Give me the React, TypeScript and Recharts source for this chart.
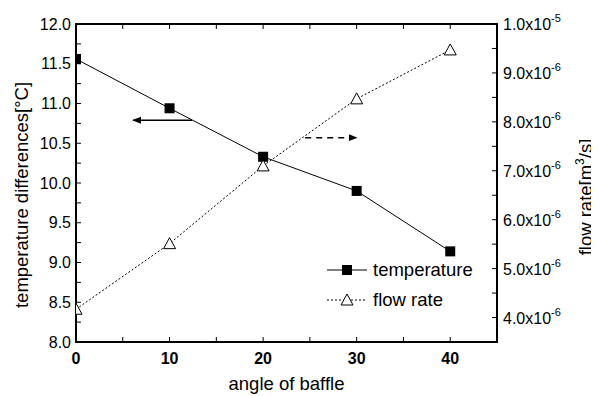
import { LineChart, Line, XAxis, YAxis, ReferenceLine, ReferenceArea, Legend } from "recharts"

// angle of baffle (deg)
const angles = [0, 10, 20, 30, 40]
// temperature differences [°C]
const temperature = [11.56, 10.94, 10.33, 9.9, 9.14]
// flow rate [m3/s]
const flowRate = [4.17e-6, 5.51e-6, 7.1e-6, 8.47e-6, 9.47e-6]

const xTicks = [0, 10, 20, 30, 40]
const xMinorTicks = [0, 5, 10, 15, 20, 25, 30, 35, 40, 45]
const tempTicks = [8, 8.5, 9, 9.5, 10, 10.5, 11, 11.5, 12]
const tempMinorTicks = [8, 8.25, 8.5, 8.75, 9, 9.25, 9.5, 9.75, 10, 10.25, 10.5, 10.75, 11, 11.25, 11.5, 11.75, 12]
const flowTicks = [4e-6, 5e-6, 6e-6, 7e-6, 8e-6, 9e-6, 1e-5]
const flowMantissa = ["4.0", "5.0", "6.0", "7.0", "8.0", "9.0", "1.0"]
const flowExponent = ["-6", "-6", "-6", "-6", "-6", "-6", "-5"]
const flowMinorTicks = [4e-6, 4.5e-6, 5e-6, 5.5e-6, 6e-6, 6.5e-6, 7e-6, 7.5e-6, 8e-6, 8.5e-6, 9e-6, 9.5e-6, 1e-5]

// annotation arrows (data coordinates, temperature axis)
const leftArrow = [{ x: 12.4, y: 10.79 }, { x: 6.1, y: 10.79 }]
const rightArrow = [{ x: 24.5, y: 10.57 }, { x: 30.0, y: 10.57 }]

const data = angles.map((a, i) => ({ angle: a, temperature: temperature[i], flowRate: flowRate[i] }))

const FONT = "'Liberation Sans', Arial, sans-serif"
const TITLE_SIZE = 18.5
const X_MAX = 45
const TEMP_MIN = 8
const TEMP_MAX = 12
const TOP_TICK = 0.063 // inward tick length on the top frame, in °C
const axisLine = { stroke: "#000", strokeWidth: 2 }
const tickLine = { stroke: "#000", strokeWidth: 1 }

const Square = (props: any) => {
  const { cx, cy, index } = props
  if (cx == null || cy == null) return <g key={`sq-${index}`} />
  return <rect key={`sq-${index}`} x={cx - 5} y={cy - 5} width={10} height={10} fill="#000" />
}

const Triangle = (props: any) => {
  const { cx, cy, index } = props
  if (cx == null || cy == null) return <g key={`tr-${index}`} />
  return (
    <polygon
      key={`tr-${index}`}
      points={`${cx},${cy - 6} ${cx - 6},${cy + 5} ${cx + 6},${cy + 5}`}
      fill="#fff"
      stroke="#000"
      strokeWidth={1}
    />
  )
}

const FlowTick = (props: any) => {
  const { x, y, payload } = props
  const i = flowTicks.findIndex((t) => Math.abs(t - payload.value) < 1e-9)
  if (i < 0) return <g />
  return (
    <text x={x} y={y} dy={6} textAnchor="start" fontSize={16} fontFamily={FONT} fill="#000">
      {flowMantissa[i]}x10
      <tspan fontSize={11} dy={-8}>{flowExponent[i]}</tspan>
    </text>
  )
}

const LegendContent = () => (
  <div style={{ fontFamily: FONT, fontSize: TITLE_SIZE, color: "#000" }}>
    <div style={{ display: "flex", alignItems: "center", height: 30 }}>
      <svg width={42} height={14}>
        <line x1={0} y1={7} x2={40} y2={7} stroke="#000" strokeWidth={1} />
        <rect x={15} y={2} width={10} height={10} fill="#000" />
      </svg>
      <span style={{ marginLeft: 4 }}>temperature</span>
    </div>
    <div style={{ display: "flex", alignItems: "center", height: 30 }}>
      <svg width={42} height={14}>
        <line x1={0} y1={7} x2={40} y2={7} stroke="#000" strokeWidth={1} strokeDasharray="2 2" />
        <polygon points="20,1 14,12 26,12" fill="#fff" stroke="#000" />
      </svg>
      <span style={{ marginLeft: 4 }}>flow rate</span>
    </div>
  </div>
)

export default function App() {
  return (
    <LineChart width={591} height={388} data={data} margin={{ top: 16, right: 0, bottom: 0, left: 0 }}>
      <defs>
        <marker id="arrowHead" viewBox="0 0 10 10" refX="9" refY="5" markerWidth="6" markerHeight="6" orient="auto">
          <path d="M0,1 L10,5 L0,9 z" fill="#000" />
        </marker>
      </defs>
      <XAxis
        xAxisId="main"
        type="number"
        dataKey="angle"
        domain={[0, X_MAX]}
        ticks={xMinorTicks}
        interval={0}
        allowDataOverflow
        height={54}
        axisLine={axisLine}
        tickLine={tickLine}
        tickSize={-5}
        tickMargin={16}
        tickFormatter={(v: number) => (xTicks.includes(v) ? String(v) : "")}
        tick={{ fill: "#000", fontSize: 16, fontWeight: "bold", fontFamily: FONT }}
        label={(p: any) => {
          const vb = p.viewBox
          return (
            <text x={vb.x + vb.width / 2} y={382} textAnchor="middle" fontSize={TITLE_SIZE} fontFamily={FONT} fill="#000">
              angle of baffle
            </text>
          )
        }}
      />
      <YAxis
        yAxisId="temp"
        type="number"
        domain={[TEMP_MIN, TEMP_MAX]}
        ticks={tempMinorTicks}
        interval={0}
        allowDataOverflow
        width={68}
        axisLine={axisLine}
        tickLine={tickLine}
        tickSize={-5}
        tickMargin={10}
        tickFormatter={(v: number) => (tempTicks.includes(v) ? v.toFixed(1) : "")}
        tick={{ fill: "#000", fontSize: 16, fontFamily: FONT }}
        label={(p: any) => {
          const vb = p.viewBox
          const cy = vb.y + vb.height / 2 + 12
          return (
            <text x={20} y={cy} transform={`rotate(-90, 20, ${cy})`} textAnchor="middle" fontSize={TITLE_SIZE} fontFamily={FONT} fill="#000">
              temperature differences[°C]
            </text>
          )
        }}
      />
      <YAxis
        yAxisId="flow"
        orientation="right"
        type="number"
        domain={[3.5e-6, 1e-5]}
        ticks={flowMinorTicks}
        interval={0}
        allowDataOverflow
        width={102}
        axisLine={axisLine}
        tickLine={tickLine}
        tickSize={-5}
        tickMargin={11}
        tick={<FlowTick />}
        label={(p: any) => {
          const vb = p.viewBox
          const cy = vb.y + vb.height / 2 + 14
          return (
            <text x={584} y={cy} transform={`rotate(-90, 584, ${cy})`} textAnchor="middle" fontSize={TITLE_SIZE} fontFamily={FONT} fill="#000">
              flow rate[m<tspan fontSize={12} dy={-8}>3</tspan>
              <tspan dy={8}>/s]</tspan>
            </text>
          )
        }}
      />
      <Legend
        layout="vertical"
        align="center"
        verticalAlign="middle"
        content={<LegendContent />}
        wrapperStyle={{ left: 319, top: 247, width: 170 }}
      />
      {/* plot frame (gives the top border) and the top inward ticks */}
      <ReferenceArea
        xAxisId="main"
        yAxisId="temp"
        x1={0}
        x2={X_MAX}
        y1={TEMP_MIN}
        y2={TEMP_MAX}
        fill="none"
        fillOpacity={0}
        stroke="#000"
        strokeWidth={2}
        strokeOpacity={1}
        ifOverflow="visible"
      />
      <ReferenceLine xAxisId="main" yAxisId="temp" y={TEMP_MAX} stroke="#000" strokeWidth={2} ifOverflow="visible" />
      {xMinorTicks.map((t) => (
        <ReferenceLine
          key={`top-${t}`}
          xAxisId="main"
          yAxisId="temp"
          segment={[{ x: t, y: TEMP_MAX }, { x: t, y: TEMP_MAX - TOP_TICK }]}
          stroke="#000"
          strokeWidth={1}
          ifOverflow="visible"
        />
      ))}
      <ReferenceLine
        xAxisId="main"
        yAxisId="temp"
        segment={leftArrow}
        stroke="#000"
        strokeWidth={1.5}
        markerEnd="url(#arrowHead)"
        ifOverflow="visible"
      />
      <ReferenceLine
        xAxisId="main"
        yAxisId="temp"
        segment={rightArrow}
        stroke="#000"
        strokeWidth={1.5}
        strokeDasharray="6 5"
        markerEnd="url(#arrowHead)"
        ifOverflow="visible"
      />
      <Line
        xAxisId="main"
        yAxisId="temp"
        dataKey="temperature"
        name="temperature"
        type="linear"
        stroke="#000"
        strokeWidth={1}
        dot={Square}
        activeDot={false}
        isAnimationActive={false}
      />
      <Line
        xAxisId="main"
        yAxisId="flow"
        dataKey="flowRate"
        name="flow rate"
        type="linear"
        stroke="#000"
        strokeWidth={1}
        strokeDasharray="2 2"
        dot={Triangle}
        activeDot={false}
        isAnimationActive={false}
      />
    </LineChart>
  )
}
